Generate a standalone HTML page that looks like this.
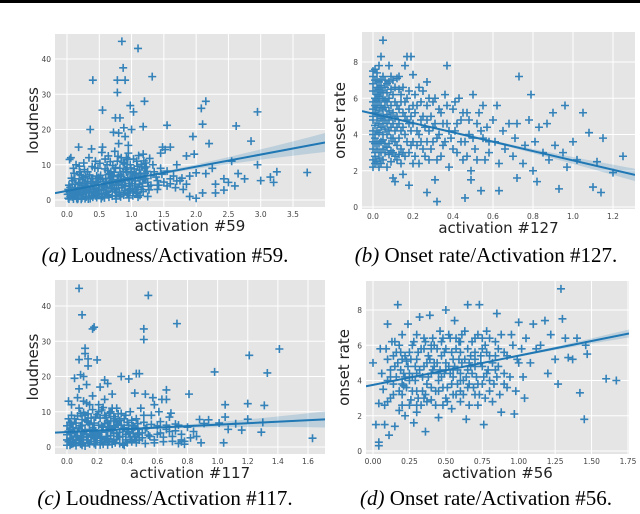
<!DOCTYPE html>
<html><head><meta charset="utf-8"><style>
body{margin:0;background:#fff}
svg{display:block}
.tk{font-family:"DejaVu Sans","Liberation Sans",sans-serif;font-size:7.5px;fill:#444}
.al{font-family:"DejaVu Sans","Liberation Sans",sans-serif;font-size:15px;fill:#222}
.cap{font-family:"Liberation Serif",serif;font-size:21px;fill:#000}
</style></head><body>
<svg id="fig" width="640" height="514" viewBox="0 0 640 514">
<rect x="0" y="0" width="640" height="3" fill="#000"/>
</svg>
<script>
const aXTicks=[0,0.5,1,1.5,2,2.5,3,3.5];
const aXLabels=["0.0","0.5","1.0","1.5","2.0","2.5","3.0","3.5"];
const aYTicks=[0,10,20,30,40];
const aPoints=[0.05,1,0.1,2,0.15,0.5,0.2,3,0.25,1.5,0.3,4,0.35,2,0.4,0.8,0.45,5,0.5,3,0.55,1,0.6,6,0.65,2.5,0.7,4.5,0.75,1.2,0.8,7,0.85,3.5,0.9,5.5,0.95,2,1.0,8,1.05,4,1.1,6.5,1.15,3,1.2,9,1.25,5,1.3,7,0.02,3,0.08,4.5,0.12,6,0.18,5,0.22,7,0.28,2,0.32,8,0.38,6,0.42,3,0.48,9,0.52,7,0.58,4,0.62,10,0.68,8,0.72,5.5,0.78,11,0.82,9,0.88,6,0.92,12,0.98,10,1.02,6.8,1.08,11,1.12,8.5,1.18,13,1.22,10.5,0.06,12,0.04,11.5,0.1,9,0.14,10,0.2,8,0.26,10.5,0.34,12,0.44,11,0.54,13.5,0.64,12.5,0.74,13.8,0.84,12,0.94,11.5,0.03,0.3,0.13,1.8,0.23,0.6,0.33,1,0.43,2.2,0.53,0.4,0.63,1.5,0.73,3,0.83,0.9,0.93,1.7,1.03,2.5,1.13,1.3,0.07,2.5,0.17,3.5,0.27,4.8,0.37,3.8,0.47,1.6,0.57,5.2,0.67,6.2,0.77,4.2,0.87,8,0.97,4.7,1.07,2.2,1.17,4.8,0.09,5.5,0.19,7.2,0.29,6.6,0.39,9.5,0.49,4.4,0.59,8.8,0.69,3.4,0.79,5.8,0.89,10.2,0.99,7.4,1.09,9.6,1.19,6.2,1.28,11.8,1.35,8,1.4,5.5,1.45,9,0.16,0.2,0.36,0.4,0.56,2.8,0.76,0.3,0.96,0.6,0.66,7.5,0.46,6.8,0.24,5.8,0.62,3.6,0.71,9.8,
0.85,45,1.1,43,0.87,37.5,0.4,34,0.78,34,0.9,34,1.32,35,0.78,30.5,1.2,28,2.15,28,2.08,26,2.95,25,0.98,26.8,1.03,25,0.55,25.5,0.75,23.3,0.82,23.3,2.1,21.5,2.62,21,1.18,20.8,0.88,20.5,0.36,20,0.72,19.2,0.8,19,1.0,20,1.55,21.2,1.95,18,0.9,18,2.2,16,2.85,16.7,0.8,16,0.95,15.5,1.48,15,1.6,15,1.52,14.3,0.18,15,0.38,14.5,0.55,15,1.45,13.3,1.85,12.5,1.97,13,1.7,10,2.55,11,2.25,9,2.65,7.5,2.43,6,2.15,7.5,2.0,7.7,2.3,4.5,2.5,5,2.6,4,2.75,6,2.95,10,3.0,5.5,3.15,6.5,3.2,5,3.25,8,3.72,7.8,1.8,3,1.9,1,2.0,0.5,2.1,2,1.75,5.5,1.55,4,1.4,3,1.6,6,1.25,1,1.1,0.8,2.43,2.8,2.3,2,
0.02,0.5,0.06,1.4,0.1,0.3,0.14,2.6,0.18,1.1,0.22,0.2,0.26,3.2,0.3,0.9,0.34,2.4,0.38,1.3,0.42,4.1,0.46,0.7,0.5,1.9,0.54,3.7,0.58,0.6,0.62,2.2,0.66,4.9,0.7,1.1,0.74,2.9,0.78,5.6,0.82,1.6,0.86,4.3,0.9,2.7,0.94,6.3,0.98,3.3,1.02,1.2,1.06,5.4,1.1,3.6,1.14,7.1,1.18,2.4,1.22,6.1,1.26,3.9,0.04,2.1,0.08,0.9,0.12,3.4,0.16,1.9,0.2,4.6,0.24,2.8,0.28,0.4,0.32,5.3,0.36,3.1,0.4,6.1,0.44,1.2,0.48,2.6,0.52,5.9,0.56,4.3,0.6,1.6,0.64,7.3,0.68,3.6,0.72,6.9,0.76,2.3,0.8,4.8,0.84,6.6,0.88,1.4,0.92,7.9,0.96,4.1,1.0,5.7,1.04,8.8,1.08,3.0,1.12,4.5,1.16,9.4,1.2,5.8,1.24,8.1,1.3,4.2,0.01,1.6,0.05,3.6,0.09,1.1,0.13,4.4,0.17,0.4,0.21,2.3,0.25,6.3,0.29,3.9,0.33,0.3,0.37,5.1,0.41,2.5,0.45,3.4,0.49,6.4,0.53,1.8,0.57,3.1,0.61,5.1,0.65,0.8,0.69,5.4,0.73,7.9,0.77,3.4,0.81,2.1,0.85,5.1,0.89,3.9,0.93,9.1,0.97,2.9,1.01,4.6,1.05,7.1,1.09,1.9,1.13,6.1,1.17,3.9,1.21,7.6,1.27,2.9,0.03,4.2,0.07,6.2,0.11,7.6,0.15,2.4,0.19,9.6,0.23,4.1,0.27,8.6,0.31,2.9,0.35,7.1,0.39,4.6,0.43,9.1,0.47,5.3,0.51,10.4,0.55,6.1,0.59,11.6,0.63,8.3,0.67,10.9,0.71,6.6,0.75,9.2,0.79,12.4,0.83,7.3,0.87,10.6,0.91,8.6,0.95,13.3,0.99,9.1,1.03,11.6,1.07,7.6,1.11,12.6,1.15,10.1,1.19,11.1,1.23,9.4,1.33,10,1.38,6.5,1.42,4.2,1.47,7.3,1.5,5.1,1.55,8.2,1.6,4.6,1.65,6.8,1.7,5.4,1.78,6.2,1.85,4.5,1.9,6.8,1.68,3.5];
const aReg=[2.6,3.43];

const bXTicks=[0,0.2,0.4,0.6,0.8,1.0,1.2];
const bXLabels=["0.0","0.2","0.4","0.6","0.8","1.0","1.2"];
const bYTicks=[0,2,4,6,8];
const bPoints=[0.0,5,0.01,6,0.02,7,0.0,4,0.01,3.5,0.02,5.5,0.03,6.5,0.0,7.5,0.01,4.5,0.03,3,0.04,5,0.05,6,0.02,2.5,0.04,7,0.05,4,0.06,5.5,0.07,6.8,0.08,3.5,0.09,5,0.1,6.2,0.07,2.2,0.06,4.3,0.08,4.8,0.09,7.2,0.1,3.8,0.11,5.8,0.12,4.4,0.13,6.5,0.14,3.2,0.15,5.2,0.12,2.6,0.16,4,0.17,6,0.18,4.6,0.19,3.4,0.2,5.6,0.2,2.4,0.22,4.2,0.23,6.6,0.24,3.6,0.25,5,0.26,2.8,0.27,4.8,0.28,6,0.29,3.2,0.3,4.4,0.3,5.8,0.32,2.6,0.33,4,0.34,5.2,0.35,3.4,0.36,6.2,0.37,4.6,0.38,2.2,0.39,3.8,0.4,5.4,0.41,4.2,0.42,3,0.43,6,0.44,4.8,0.45,2.6,0.46,3.6,0.47,5.2,0.48,4,0.49,2,0.5,6.2,0.51,3.2,0.52,4.6,0.53,5.2,0.55,3.8,0.56,2.6,0.57,4.4,0.58,3,0.6,4.8,0.61,3.6,0.62,5.6,0.63,2.4,0.65,4.2,0.66,3.2,0.68,4.6,0.7,2.8,0.71,3.8,0.72,4.6,0.73,7.2,0.75,2.4,0.76,3.4,0.78,4.8,0.79,6.2,0.8,2,0.81,3.6,0.83,4.4,0.85,3,0.87,4.6,0.88,2.6,0.9,5.2,0.91,3.4,0.93,1,0.95,3,0.96,5.6,0.97,2.2,1.0,3.6,1.02,2.6,1.05,5.2,1.08,4.1,1.1,1.1,1.12,2.5,1.14,0.8,1.15,3.8,1.2,1.9,1.25,2.8,0.04,8.3,0.05,9.2,0.17,8.3,0.19,8.3,0.37,7.8,0.16,7.8,0.08,7.8,0.13,7.2,0.2,7.3,0.27,6.9,0.31,1.5,0.32,0.3,0.27,0.8,0.46,0.5,0.54,0.9,0.63,0.9,0.82,1.4,0.72,1.6,0.49,1.5,0.18,1.2,0.11,1.4,0.15,1.8,0.03,2.2,0.01,2.8,0.05,3.2,0.1,1.6,0.02,4.8,0.03,5.8,0.0,6.4,0.01,5.2,0.02,6.2,0.04,4.4,0.06,6.6,0.0,3.2,0.01,7,0.05,5.4,0.07,4.6,0.11,4.9,0.14,5.8,0.09,3.1,0.13,2.9,
0.0,2.2,0.0,2.6,0.0,3.6,0.0,4.2,0.0,4.8,0.0,5.4,0.0,5.8,0.0,6.8,0.0,7.2,0.01,2.4,0.01,3.0,0.01,3.8,0.01,4.0,0.01,5.6,0.01,6.4,0.01,7.6,0.02,3.2,0.02,3.6,0.02,4.2,0.02,5.0,0.02,5.9,0.02,6.6,0.02,7.4,0.03,2.7,0.03,3.5,0.03,4.1,0.03,4.6,0.03,5.3,0.03,6.1,0.03,6.9,0.03,7.8,0.04,2.4,0.04,3.0,0.04,3.6,0.04,4.9,0.04,5.6,0.04,6.3,0.04,6.7,0.05,2.6,0.05,3.7,0.05,4.6,0.05,5.0,0.05,6.4,0.05,7.2,0.06,3.0,0.06,3.5,0.06,4.8,0.06,5.9,0.06,7.0,0.07,3.3,0.07,4.0,0.07,5.1,0.07,5.8,0.07,6.3,0.08,2.9,0.08,4.2,0.08,5.3,0.08,6.0,0.08,6.9,0.09,2.5,0.09,3.8,0.09,4.4,0.09,5.6,0.09,6.5,0.1,3.0,0.1,4.6,0.1,5.2,0.1,7.0,0.11,2.8,0.11,3.6,0.11,4.2,0.11,6.6,0.12,3.4,0.12,5.0,0.12,5.6,0.12,7.1,0.13,3.8,0.13,4.6,0.13,5.4,0.14,2.4,0.14,4.2,0.14,6.2,0.15,3.0,0.15,4.4,0.15,6.6,0.16,2.8,0.16,5.0,0.16,5.8,0.17,3.6,0.17,4.8,0.18,3.0,0.18,5.4,0.18,6.4,0.19,4.2,0.19,5.0,0.2,3.6,0.2,4.6,0.21,2.8,0.21,5.2,0.21,6.2,0.22,3.4,0.22,5.6,0.23,4.0,0.23,2.4,0.24,4.8,0.24,5.8,0.25,3.2,0.25,6.4,0.26,4.4,0.27,3.6,0.27,5.6,0.28,4.2,0.28,2.6,0.29,5.0,0.3,3.6,0.31,4.6,0.31,6.0,0.32,3.8,0.33,5.4,0.34,2.8,0.35,4.6,0.36,3.6,0.37,5.6,0.38,4.2,0.4,3.2,0.41,5.8,0.42,4.6,0.44,3.6,0.45,5.2,0.47,2.8,0.48,4.8,0.5,3.8,0.52,2.6,0.54,4.2,0.55,5.6,0.58,3.6];
const bReg=[5.15,-2.58];

const cXTicks=[0,0.2,0.4,0.6,0.8,1.0,1.2,1.4,1.6];
const cXLabels=["0.0","0.2","0.4","0.6","0.8","1.0","1.2","1.4","1.6"];
const cYTicks=[0,10,20,30,40];
const cPoints=[0.0,2,0.02,5,0.04,1,0.05,8,0.06,3,0.08,11,0.09,6,0.1,0.5,0.11,4,0.12,9,0.13,2,0.14,7,0.15,12,0.16,3.5,0.17,5.5,0.18,1,0.19,8.5,0.2,4,0.21,10,0.22,2.5,0.23,6,0.24,0.8,0.25,9,0.26,3,0.27,7,0.28,1.5,0.29,5,0.3,11,0.31,2,0.32,8,0.33,4,0.34,6.5,0.35,1,0.36,9.5,0.37,3,0.38,5.5,0.39,2,0.4,7,0.41,4,0.42,10,0.43,1.5,0.44,6,0.45,3,0.46,8,0.47,5,0.48,2,0.49,11,0.5,4,0.51,7,0.52,1,0.53,5.5,0.55,3,0.56,9,0.58,2,0.6,6,0.62,4,0.64,1.5,0.66,5,0.68,8.5,0.7,3,0.72,6.5,0.74,1,0.76,2,0.78,0.8,0.76,1.5,0.01,13,0.03,12,0.07,14,0.11,13,0.13,12.5,0.17,14.5,0.21,12,0.25,13.5,0.29,10,0.33,11,0.03,6.5,0.07,4.5,0.09,9.5,0.15,5,0.19,2.5,0.23,10.5,0.27,4.5,0.31,6,0.35,7.5,0.39,9,0.43,5,0.47,3.5,0.51,9,0.02,0.5,0.06,2,0.1,3,0.14,1.2,0.18,4.2,0.22,0.6,0.26,2.2,0.3,1.4,0.34,3,0.38,0.5,0.42,2.8,0.46,1.2,0.08,45,0.54,43,0.1,37.5,0.18,34,0.17,33.5,0.51,33.5,0.73,35,0.51,30.5,0.12,28,0.12,26.5,0.14,25,0.08,24.8,0.2,24.7,0.14,23,0.09,20.5,0.11,20,0.05,19.5,0.36,20,0.41,19.3,0.46,20.8,0.48,20.8,0.25,19,0.27,18,0.22,17,0.3,15,0.08,16.5,0.13,17.7,0.66,16.2,0.81,15,0.45,15.3,0.52,15,0.57,14,0.63,13.5,0.66,13.5,0.58,12,0.61,10,0.69,9.6,0.98,21.3,1.21,26,1.33,21,1.41,27.8,1.63,2.5,1.04,1.2,0.89,1.2,0.86,3,0.88,7.8,0.91,6.7,0.94,7.7,1.01,6.8,1.05,12,1.05,8.5,1.07,5,1.16,4.8,1.2,12.3,1.2,7.9,1.29,4.2,1.3,7,1.31,11.8,1.12,6.6,
0.0,0.5,0.0,3.5,0.0,6,0.01,1.5,0.01,4.5,0.01,8,0.02,2.5,0.02,7,0.03,0.8,0.03,3.8,0.03,9,0.04,5.5,0.04,2.2,0.05,1.2,0.05,4.2,0.06,6.8,0.06,0.4,0.07,2.8,0.07,8.8,0.08,1.8,0.08,5.2,0.09,3.2,0.09,0.9,0.1,6.2,0.1,7.8,0.11,2.1,0.11,9.8,0.12,0.3,0.12,4.8,0.13,3.6,0.13,7.4,0.14,2.8,0.14,9.4,0.15,0.9,0.15,6.4,0.16,1.6,0.16,8.2,0.17,3.2,0.17,10.6,0.18,2.4,0.18,6.8,0.19,0.6,0.19,4.6,0.2,1.8,0.2,9.2,0.21,3.6,0.21,6.2,0.22,1.2,0.22,8.2,0.23,4.2,0.23,2.8,0.24,5.6,0.24,11.2,0.25,1.6,0.25,6.6,0.26,4.4,0.26,8.4,0.27,0.6,0.27,2.4,0.28,5.8,0.28,9.6,0.29,3.2,0.29,7.4,0.3,0.8,0.3,4.8,0.31,8.6,0.31,3.8,0.32,1.2,0.32,5.6,0.33,7,0.33,2.2,0.34,9.4,0.35,4.2,0.35,2.8,0.36,6.2,0.37,0.8,0.37,5.2,0.38,8,0.39,3.6,0.4,1.2,0.4,4.4,0.41,6.2,0.42,2.2,0.43,7.6,0.44,3.8,0.45,5.6,0.46,1.8,0.47,6.6,0.48,4,0.5,2.6,0.52,5.2,0.54,3.4,0.56,6.4,0.58,1.2,0.6,3.6,0.62,7.2,0.64,2.8,0.66,6.2,0.68,4.4,0.7,1.6,0.72,4.6,0.74,6.2,0.76,3.6,0.78,1.6,0.8,5.6,0.82,2.6,0.84,4.4];
const cReg=[4.26,2.08];

const dXTicks=[0,0.25,0.5,0.75,1.0,1.25,1.5,1.75];
const dXLabels=["0.00","0.25","0.50","0.75","1.00","1.25","1.50","1.75"];
const dYTicks=[0,2,4,6,8];
const dPoints=[0.0,5,0.02,1.5,0.04,2.7,0.04,0.5,0.04,0.3,0.05,5.8,0.06,4.4,0.07,3.5,0.08,1.5,0.09,5.8,0.1,2.8,0.1,7.2,0.11,0.9,0.12,4.2,0.13,6.2,0.14,3.2,0.15,1.4,0.16,5.6,0.17,8.3,0.18,2.3,0.19,4.6,0.2,6.6,0.21,3.7,0.22,2,0.23,5.1,0.24,7.2,0.25,4,0.26,2.9,0.27,6,0.28,1.6,0.29,4.8,0.3,3.4,0.31,5.6,0.32,7.6,0.33,2.6,0.34,4.2,0.35,6.4,0.36,1.1,0.37,3.8,0.38,5.4,0.39,7.7,0.4,2.9,0.41,4.6,0.42,6,0.43,3.4,0.44,5,0.45,1.9,0.46,6.8,0.47,4.2,0.48,2.6,0.49,5.6,0.5,8,0.51,3.6,0.52,4.8,0.53,6.4,0.54,2.4,0.55,5.2,0.56,7.4,0.57,3.2,0.58,4.6,0.59,6.2,0.6,2.8,0.61,5,0.62,4,0.63,6.8,0.64,1.8,0.65,8.3,0.66,3.8,0.67,5.4,0.68,4.4,0.7,6.4,0.72,2.6,0.73,8.3,0.74,5,0.75,3.8,0.76,1.5,0.77,6,0.78,4.4,0.8,5.4,0.82,2.8,0.84,6.2,0.85,7.8,0.86,4.8,0.88,2.2,0.9,5.6,0.92,3.6,0.95,6.6,0.97,2.1,0.99,5.2,1.0,7.3,1.03,4.2,1.05,6.4,1.08,5,1.1,7.2,1.12,5.8,1.15,6,1.18,7.4,1.2,4.4,1.22,6.6,1.25,5.2,1.27,3.8,1.29,9.2,1.3,7.5,1.32,6.4,1.34,5.3,1.37,5.2,1.4,6.4,1.42,3.3,1.47,5.5,1.46,6,1.6,4.1,1.67,4.0,1.45,1.8,0.15,4.8,0.2,3.2,0.25,5.6,0.3,4.4,0.35,3,0.4,5.8,0.45,4,0.5,5,0.55,4.2,0.6,5.6,0.65,4.6,0.7,5.2,0.75,4.8,0.8,3.4,0.2,5.2,0.3,2.2,0.4,4.4,0.5,3,0.6,4,0.7,3.2,0.27,4.2,0.37,5,0.47,5.4,0.57,5.8,0.1,4,0.12,3,0.14,5.4,0.08,2.6,0.18,6,0.22,4.2,
0.1,5.2,0.12,4.6,0.14,3.8,0.16,4.2,0.17,5.0,0.18,3.4,0.19,5.6,0.2,2.6,0.21,4.4,0.22,5.4,0.23,3.6,0.24,4.8,0.25,2.6,0.26,5.2,0.27,3.4,0.28,6.2,0.29,4.0,0.3,5.2,0.31,3.0,0.32,4.6,0.33,5.8,0.34,3.4,0.35,4.8,0.36,6.2,0.37,2.8,0.38,4.2,0.39,5.2,0.4,3.6,0.41,6.4,0.42,4.8,0.43,2.6,0.44,5.8,0.45,3.4,0.46,4.6,0.47,6.2,0.48,3.6,0.49,4.4,0.5,5.8,0.51,2.8,0.52,6.6,0.53,4.4,0.54,5.6,0.55,3.2,0.56,4.8,0.57,6.4,0.58,3.8,0.59,5.2,0.6,4.4,0.61,6.6,0.62,3.2,0.63,5.2,0.64,4.2,0.65,5.8,0.66,2.6,0.67,4.8,0.68,6.2,0.69,3.6,0.7,5.6,0.71,4.2,0.72,6.6,0.73,3.2,0.74,5.4,0.75,6.4,0.76,4.2,0.77,3.0,0.78,5.6,0.79,4.6,0.8,6.4,0.82,5.0,0.83,3.8,0.84,4.6,0.86,5.8,0.87,3.2,0.88,6.6,0.9,4.4,0.92,5.4,0.94,4.2,0.96,6.0,0.98,3.4,1.0,5.0,1.02,5.8,1.04,3.0,0.3,6.6,0.36,3.2,0.42,5.0,0.48,6.4,0.54,3.8,0.6,6.2,0.66,5.0,0.72,3.8,0.78,6.8,0.84,5.4,0.25,4.4,0.35,5.8,0.45,4.4,0.55,4.6,0.65,3.6,0.75,5.8,0.85,4.2,0.2,3.8,0.4,6.0,0.6,3.4,0.8,4.0,0.15,6.2,0.3,2.6,0.5,4.6,0.7,4.8,0.9,3.8];
const dReg=[3.75,1.66];

const NS="http://www.w3.org/2000/svg";
const svg=document.getElementById('fig');
function mk(tag,attrs,parent){const e=document.createElementNS(NS,tag);for(const k in attrs)e.setAttribute(k,attrs[k]);(parent||svg).appendChild(e);return e;}

function panel(p){
  const g=mk('g',{});
  
  
  const sx=v=>p.x0px+(v-p.xr[0])*(p.x1px-p.x0px)/(p.xr[1]-p.xr[0]);
  const sy=v=>p.y0px+(v-p.yr[0])*(p.y1px-p.y0px)/(p.yr[1]-p.yr[0]);
  const bg=mk('rect',{x:p.L,y:p.T,width:p.R-p.L,height:p.B-p.T,fill:'#e5e5e5'},g);
  
  
  p.xt.forEach((t,i)=>{
    const X=sx(t);
    const l=mk('line',{x1:X,x2:X,y1:p.T,y2:p.B,stroke:'#fff','stroke-width':1},g);
    
    
    const tx=mk('text',{x:X,y:p.B+10,'text-anchor':'middle',class:'tk'},g);
    tx.textContent=p.xl[i];
    
    
  });
  p.yt.forEach(t=>{
    const Y=sy(t);
    const l=mk('line',{x1:p.L,x2:p.R,y1:Y,y2:Y,stroke:'#fff','stroke-width':1},g);
    
    
    const tx=mk('text',{x:p.L-4,y:Y+3,'text-anchor':'end',class:'tk'},g);
    tx.textContent=String(t);
    
    
  });
  const clip=mk('clipPath',{id:'clip-'+p.id},g);
  mk('rect',{x:p.L,y:p.T,width:p.R-p.L,height:p.B-p.T},clip);
  const pg=mk('g',{'clip-path':'url(#clip-'+p.id+')'},g);
  
  
  let d='';
  for(let i=0;i<p.pts.length;i+=2){
    const X=sx(p.pts[i]),Y=sy(p.pts[i+1]);
    d+='M'+(X-4)+' '+Y+'h8M'+X+' '+(Y-4)+'v8';
  }
  const pts=mk('path',{d:d,stroke:'#1f77b4','stroke-width':1.6,fill:'none','stroke-opacity':0.9},pg);
  
  
  const xa=p.xr[0]+(p.L-p.x0px)*(p.xr[1]-p.xr[0])/(p.x1px-p.x0px);
  const xb=p.xr[0]+(p.R-p.x0px)*(p.xr[1]-p.xr[0])/(p.x1px-p.x0px);
  const f=v=>p.reg[0]+p.reg[1]*v;
  const N=20;let up=[],dn=[];
  for(let k=0;k<=N;k++){
    const v=xa+(xb-xa)*k/N;
    const w=p.ci*(0.3+Math.pow(Math.abs(v-p.cm)/(xb-xa),2)*6);
    up.push(sx(v)+','+sy(f(v)+w));dn.unshift(sx(v)+','+sy(f(v)-w));
  }
  const band=mk('polygon',{points:up.concat(dn).join(' '),fill:'#1f77b4','fill-opacity':0.2},pg);
  
  
  const rl=mk('line',{x1:sx(xa),y1:sy(f(xa)),x2:sx(xb),y2:sy(f(xb)),stroke:'#1f77b4','stroke-width':2},pg);
  
  
  const xlab=mk('text',{x:(p.L+p.R)/2,y:p.B+24,'text-anchor':'middle',class:'al'},g);
  xlab.textContent=p.xlabel;
  
  
  const ylab=mk('text',{x:0,y:0,'text-anchor':'middle',class:'al',transform:'translate('+(p.L-17)+','+((p.T+p.B)/2)+') rotate(-90)'},g);
  ylab.textContent=p.ylabel;
  
  
  const cap=mk('text',{x:p.capx,y:p.capy,'text-anchor':'middle',class:'cap'},g);
  cap.innerHTML='<tspan font-style="italic">('+p.id+')</tspan> '+p.cap;
  
  
}

panel({id:'a',L:55,R:325,T:34,B:207,xr:[0,3.5],x0px:67,x1px:293,yr:[0,40],y0px:200,y1px:59,
  xt:aXTicks,xl:aXLabels,yt:aYTicks,pts:aPoints,reg:aReg,ci:0.6,cm:0.5,
  xlabel:'activation #59',ylabel:'loudness',cap:'Loudness/Activation #59.',capx:165,capy:262});
panel({id:'b',L:362,R:635,T:32,B:209,xr:[0,1.2],x0px:373,x1px:613,yr:[0,8],y0px:207,y1px:62,
  xt:bXTicks,xl:bXLabels,yt:bYTicks,pts:bPoints,reg:bReg,ci:0.08,cm:0.2,
  xlabel:'activation #127',ylabel:'onset rate',cap:'Onset rate/Activation #127.',capx:486,capy:262});
panel({id:'c',L:55,R:325,T:280,B:454,xr:[0,1.6],x0px:67,x1px:308,yr:[0,40],y0px:447,y1px:306,
  xt:cXTicks,xl:cXLabels,yt:cYTicks,pts:cPoints,reg:cReg,ci:0.5,cm:0.2,
  xlabel:'activation #117',ylabel:'loudness',cap:'Loudness/Activation #117.',capx:165,capy:505});
panel({id:'d',L:366,R:629,T:281,B:454,xr:[0,1.75],x0px:373,x1px:628,yr:[0,8],y0px:451,y1px:310,
  xt:dXTicks,xl:dXLabels,yt:dYTicks,pts:dPoints,reg:dReg,ci:0.07,cm:0.5,
  xlabel:'activation #56',ylabel:'onset rate',cap:'Onset rate/Activation #56.',capx:486,capy:505});
</script>
</body></html>
